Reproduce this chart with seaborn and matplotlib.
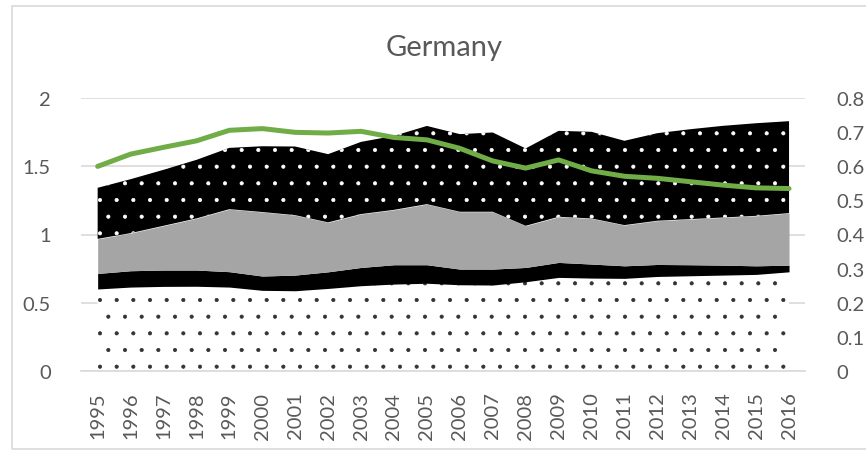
import numpy as np
import pandas as pd
import matplotlib
matplotlib.use("Agg")
import matplotlib.pyplot as plt
import seaborn as sns
from matplotlib.patches import Rectangle
from matplotlib.ticker import FuncFormatter, FixedLocator

years = ["1995", "1996", "1997", "1998", "1999", "2000", "2001", "2002", "2003", "2004", "2005",
         "2006", "2007", "2008", "2009", "2010", "2011", "2012", "2013", "2014", "2015", "2016"]

layer_dotted = [0.600, 0.614, 0.619, 0.620, 0.614, 0.590, 0.587, 0.604, 0.624, 0.636, 0.642,
                0.631, 0.629, 0.653, 0.685, 0.680, 0.678, 0.692, 0.697, 0.702, 0.707, 0.726]
layer_black = [0.114, 0.120, 0.120, 0.119, 0.113, 0.105, 0.115, 0.122, 0.134, 0.142, 0.136,
               0.115, 0.117, 0.105, 0.110, 0.103, 0.092, 0.088, 0.081, 0.073, 0.063, 0.049]
layer_gray = [0.254, 0.276, 0.325, 0.379, 0.459, 0.470, 0.440, 0.363, 0.392, 0.403, 0.445,
              0.421, 0.421, 0.306, 0.335, 0.335, 0.299, 0.321, 0.335, 0.350, 0.367, 0.382]
layer_black_dotted = [0.375, 0.396, 0.411, 0.430, 0.450, 0.483, 0.504, 0.501, 0.530, 0.543, 0.574,
                      0.570, 0.582, 0.568, 0.631, 0.636, 0.619, 0.643, 0.660, 0.673, 0.680, 0.675]
green_line = [0.600, 0.636, 0.656, 0.675, 0.706, 0.711, 0.700, 0.698, 0.703, 0.685, 0.678,
              0.653, 0.616, 0.595, 0.619, 0.587, 0.571, 0.565, 0.555, 0.545, 0.537, 0.535]

left_ticks = [0, 0.5, 1, 1.5, 2]
right_ticks = [0, 0.1, 0.2, 0.3, 0.4, 0.5, 0.6, 0.7, 0.8]

sns.set_theme(style="white")
plt.rcParams["font.family"] = ["Lato", "DejaVu Sans"]
plt.rcParams["hatch.linewidth"] = 0.5
TXT = "#595959"
GRID = "#D9D9D9"

fig = plt.figure(figsize=(8.66, 4.52), dpi=100)
W, H = 866, 452
ax = fig.add_axes([81.2 / W, 1 - 371.7 / H, (805.5 - 81.2) / W, (371.7 - 99.3) / H])

x = np.arange(len(years))
df = pd.DataFrame({"year": years, "pos": x, "green": green_line})

polys = ax.stackplot(x, layer_dotted, layer_black, layer_gray, layer_black_dotted,
                     colors=["white", "black", "#A5A5A5", "black"], linewidth=0, zorder=2)
polys[0].set_edgecolor("#333333")
polys[0].set_hatch(".")
polys[0].set_linewidth(0)
polys[3].set_edgecolor("white")
polys[3].set_hatch(".")
polys[3].set_linewidth(0)

ax.set_xlim(-0.5, len(years) - 0.5)
ax.set_ylim(0, 2)
ax.yaxis.set_major_locator(FixedLocator(left_ticks))
ax.yaxis.set_major_formatter(FuncFormatter(lambda v, p: f"{v:g}"))
ax.grid(axis="y", color=GRID, linewidth=1.2, zorder=0)
ax.set_axisbelow(True)
ax.set_xticks(x)
ax.set_xticklabels(years, rotation=90)
ax.set_xticks(np.arange(-0.5, len(years), 1), minor=True)
ax.tick_params(axis="x", which="major", length=0, pad=15, labelsize=14.5, labelcolor=TXT)
ax.tick_params(axis="x", which="minor", length=6, width=1, color=GRID, direction="out")
ax.tick_params(axis="y", length=0, pad=22, labelsize=14.5, labelcolor=TXT)
for s in ["top", "right", "left"]:
    ax.spines[s].set_visible(False)
ax.spines["bottom"].set_color(GRID)
ax.spines["bottom"].set_linewidth(1.2)
ax.set_xlabel("")
ax.set_ylabel("")

ax2 = ax.twinx()
sns.lineplot(data=df, x="pos", y="green", ax=ax2, color="#70AD47", linewidth=3.6,
             solid_capstyle="round", legend=False)
ax2.set_ylim(0, 0.8)
ax2.yaxis.set_major_locator(FixedLocator(right_ticks))
ax2.yaxis.set_major_formatter(FuncFormatter(lambda v, p: f"{v:g}"))
ax2.tick_params(axis="y", length=0, pad=22, labelsize=14.5, labelcolor=TXT)
for s in ax2.spines.values():
    s.set_visible(False)
ax2.set_xlabel("")
ax2.set_ylabel("")
ax2.grid(False)
ax2.set_xlim(-0.5, len(years) - 0.5)

fig.text(444 / W, 1 - 48 / H, "Germany", ha="center", va="center", fontsize=21, color=TXT)

fig.patches.append(Rectangle((12 / W, 1 - 450 / H), (870 - 12) / W, (450 - 7) / H,
                             transform=fig.transFigure, fill=False, edgecolor=GRID,
                             linewidth=1.2, zorder=0))

fig.savefig("out.png", dpi=100)
